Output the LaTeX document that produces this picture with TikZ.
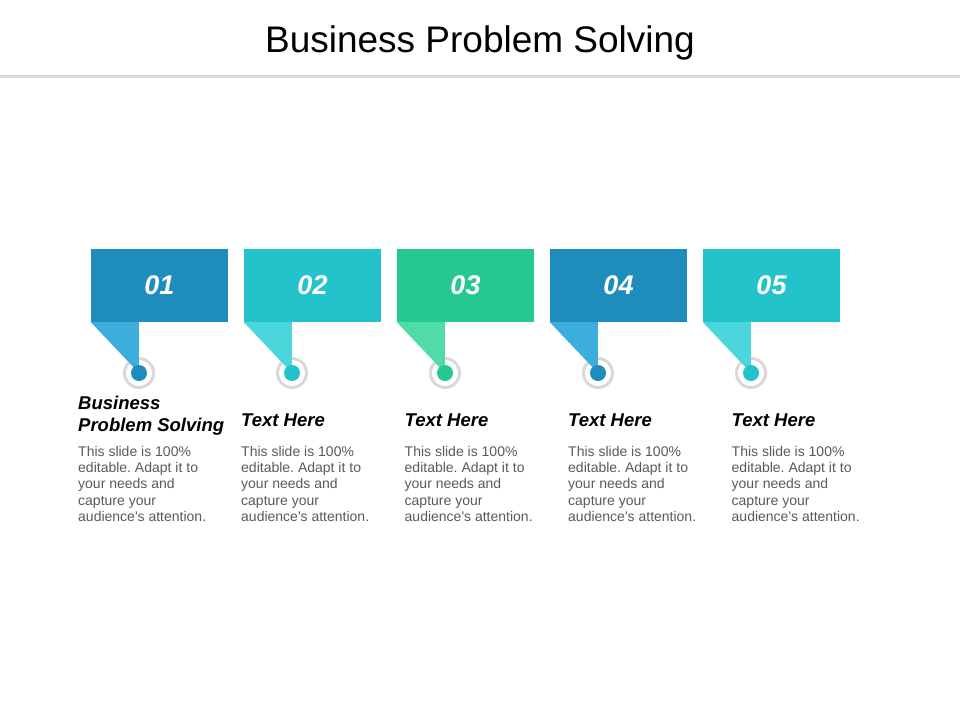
\documentclass[tikz,border=0pt]{standalone}
\usepackage{fontspec}
\setmainfont{Liberation Sans}
\frenchspacing

\definecolor{blueA}{HTML}{1F8DBB}
\definecolor{blueB}{HTML}{3DADDB}
\definecolor{tealA}{HTML}{22C3CB}
\definecolor{tealB}{HTML}{4AD6DA}
\definecolor{greenA}{HTML}{25C98F}
\definecolor{greenB}{HTML}{4FDCA8}
\definecolor{ringgray}{HTML}{D9D9D9}
\definecolor{bodygray}{HTML}{595959}

\begin{document}
\begin{tikzpicture}[x=1pt, y=-1pt,
	flag/.style={minimum width=137pt, minimum height=73pt, inner sep=0pt, text=white, font=\fontsize{27}{32}\selectfont\bfseries\itshape},
	ring/.style={circle, draw=ringgray, line width=3pt, fill=white, minimum size=29pt, inner sep=0pt},
	dot/.style={circle, minimum size=16pt, inner sep=0pt},
	head/.style={anchor=north west, inner sep=0pt, align=left, font=\fontsize{18.5}{22}\selectfont\bfseries\itshape},
	body/.style={anchor=north west, inner sep=0pt, align=left, text=bodygray, font=\fontsize{14}{16.3}\selectfont}]
		\useasboundingbox (0,0) rectangle (960,720);

		\node[anchor=base, font=\fontsize{37}{44}\selectfont] (title) at (480,52) {Business Problem Solving};
		\draw[ringgray, line width=2.5pt] (0,76.5) -- (960,76.5);

		\node[flag, fill=blueA] (f1) at (159.5,285.5) {01};
		\node[flag, fill=tealA] (f2) at (312.5,285.5) {02};
		\node[flag, fill=greenA] (f3) at (465.5,285.5) {03};
		\node[flag, fill=blueA] (f4) at (618.5,285.5) {04};
		\node[flag, fill=tealA] (f5) at (771.5,285.5) {05};

		\node[ring] (c1) at (139,373) {};
		\node[ring] (c2) at (292,373) {};
		\node[ring] (c3) at (445,373) {};
		\node[ring] (c4) at (598,373) {};
		\node[ring] (c5) at (751,373) {};

		\fill[blueB] (f1.south west) -- ++(48,0) -- (c1.center) -- cycle;
		\fill[tealB] (f2.south west) -- ++(48,0) -- (c2.center) -- cycle;
		\fill[greenB] (f3.south west) -- ++(48,0) -- (c3.center) -- cycle;
		\fill[blueB] (f4.south west) -- ++(48,0) -- (c4.center) -- cycle;
		\fill[tealB] (f5.south west) -- ++(48,0) -- (c5.center) -- cycle;

		\node[dot, fill=blueA] (d1) at (c1) {};
		\node[dot, fill=tealA] (d2) at (c2) {};
		\node[dot, fill=greenA] (d3) at (c3) {};
		\node[dot, fill=blueA] (d4) at (c4) {};
		\node[dot, fill=tealA] (d5) at (c5) {};

		\node[head] (h1) at (78,396) {Business\\Problem Solving};
		\node[head] (h2) at (241,414) {Text Here};
		\node[head] (h3) at (404.5,414) {Text Here};
		\node[head] (h4) at (568,414) {Text Here};
		\node[head] (h5) at (731.5,414) {Text Here};

		\node[body] (b1) at (78,446) {This slide is 100\%\\editable. Adapt it to\\your needs and\\capture your\\audience\textquotesingle s attention.};
		\node[body] (b2) at (241,446) {This slide is 100\%\\editable. Adapt it to\\your needs and\\capture your\\audience\textquotesingle s attention.};
		\node[body] (b3) at (404.5,446) {This slide is 100\%\\editable. Adapt it to\\your needs and\\capture your\\audience\textquotesingle s attention.};
		\node[body] (b4) at (568,446) {This slide is 100\%\\editable. Adapt it to\\your needs and\\capture your\\audience\textquotesingle s attention.};
		\node[body] (b5) at (731.5,446) {This slide is 100\%\\editable. Adapt it to\\your needs and\\capture your\\audience\textquotesingle s attention.};
	\end{tikzpicture}
\end{document}
